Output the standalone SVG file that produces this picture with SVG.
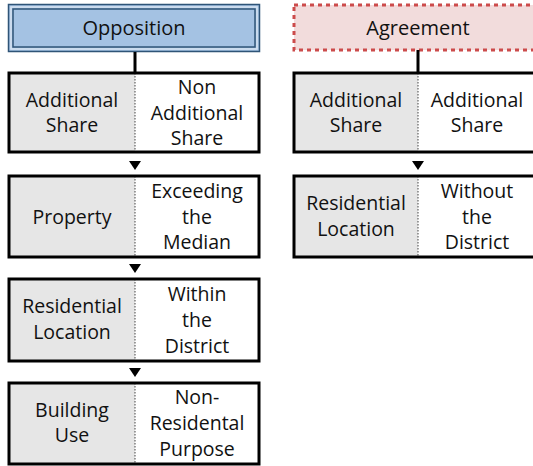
<svg xmlns="http://www.w3.org/2000/svg" width="533" height="466" viewBox="0 0 533 466">
  <style>
    text { font-family: "Open Sans", "Noto Sans", sans-serif; font-size: 19.5px; fill: #111; text-anchor: middle; }
    .title { font-size: 20px; }
    .cell { stroke: #000; stroke-width: 3; fill: none; }
    .key { fill: #e6e6e6; }
    .val { fill: #fff; }
    .div { stroke: #444; stroke-width: 1; stroke-dasharray: 1.5 1.5; }
    .stem { stroke: #000; stroke-width: 3; }
    .tri { fill: #000; }
  </style>
  <rect width="533" height="466" fill="#fff"/>

  <!-- headers -->
  <g id="opposition">
    <rect x="8.5" y="4.5" width="251" height="47" fill="#a4c2e3" stroke="#2f5477" stroke-width="1.5"/>
    <rect x="11" y="7" width="246" height="42" fill="none" stroke="#d7e4f2" stroke-width="1.5"/>
    <rect x="13" y="9" width="242" height="38" fill="none" stroke="#2f5477" stroke-width="1.5"/>
    <text class="title" x="134" y="35">Opposition</text>
  </g>
  <g id="agreement">
    <rect x="294" y="5" width="250" height="45" fill="#f2dcdc" stroke="#cc4b4b" stroke-width="3" stroke-dasharray="4 4"/>
    <text class="title" x="418" y="35">Agreement</text>
  </g>

  <!-- connectors -->
  <g id="connectors">
    <line class="stem" x1="135" y1="52" x2="135" y2="72"/>
    <line class="stem" x1="418" y1="50" x2="418" y2="72"/>
    <polygon class="tri" points="129,161 141,161 135,170"/>
    <polygon class="tri" points="129,264 141,264 135,273"/>
    <polygon class="tri" points="129,368 141,368 135,377"/>
    <polygon class="tri" points="412,161 424,161 418,170"/>
  </g>

  <!-- opposition chain -->
  <g id="opp-share">
    <rect class="key" x="9" y="73" width="126" height="79"/>
    <rect class="val" x="135" y="73" width="124" height="79"/>
    <line class="div" x1="135" y1="73" x2="135" y2="152"/>
    <rect class="cell" x="9" y="73" width="250" height="79"/>
    <text x="72" y="107">Additional</text>
    <text x="72" y="132">Share</text>
    <text x="197" y="94">Non</text>
    <text x="197" y="120">Additional</text>
    <text x="197" y="145">Share</text>
  </g>
  <g id="opp-property">
    <rect class="key" x="9" y="176" width="126" height="81"/>
    <rect class="val" x="135" y="176" width="124" height="81"/>
    <line class="div" x1="135" y1="176" x2="135" y2="257"/>
    <rect class="cell" x="9" y="176" width="250" height="81"/>
    <text x="72" y="224">Property</text>
    <text x="197" y="198">Exceeding</text>
    <text x="197" y="224">the</text>
    <text x="197" y="249">Median</text>
  </g>
  <g id="opp-location">
    <rect class="key" x="9" y="279" width="126" height="82"/>
    <rect class="val" x="135" y="279" width="124" height="82"/>
    <line class="div" x1="135" y1="279" x2="135" y2="361"/>
    <rect class="cell" x="9" y="279" width="250" height="82"/>
    <text x="72" y="313">Residential</text>
    <text x="72" y="339">Location</text>
    <text x="197" y="301">Within</text>
    <text x="197" y="327">the</text>
    <text x="197" y="353">District</text>
  </g>
  <g id="opp-use">
    <rect class="key" x="9" y="383" width="126" height="81"/>
    <rect class="val" x="135" y="383" width="124" height="81"/>
    <line class="div" x1="135" y1="383" x2="135" y2="464"/>
    <rect class="cell" x="9" y="383" width="250" height="81"/>
    <text x="72" y="417">Building</text>
    <text x="72" y="442">Use</text>
    <text x="197" y="404">Non-</text>
    <text x="197" y="430">Residental</text>
    <text x="197" y="456">Purpose</text>
  </g>

  <!-- agreement chain -->
  <g id="agr-share">
    <rect class="key" x="294" y="73" width="124" height="79"/>
    <rect class="val" x="418" y="73" width="126" height="79"/>
    <line class="div" x1="418" y1="73" x2="418" y2="152"/>
    <rect class="cell" x="294" y="73" width="250" height="79"/>
    <text x="356" y="107">Additional</text>
    <text x="356" y="132">Share</text>
    <text x="477" y="107">Additional</text>
    <text x="477" y="132">Share</text>
  </g>
  <g id="agr-location">
    <rect class="key" x="294" y="176" width="124" height="81"/>
    <rect class="val" x="418" y="176" width="126" height="81"/>
    <line class="div" x1="418" y1="176" x2="418" y2="257"/>
    <rect class="cell" x="294" y="176" width="250" height="81"/>
    <text x="356" y="210">Residential</text>
    <text x="356" y="236">Location</text>
    <text x="477" y="198">Without</text>
    <text x="477" y="224">the</text>
    <text x="477" y="249">District</text>
  </g>
</svg>
